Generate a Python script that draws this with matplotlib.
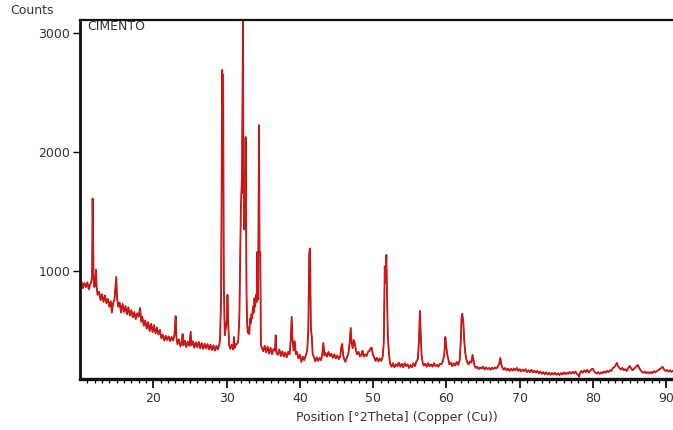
"""XRD pattern of the cement sample (CIMENTO), Cu K-alpha, 10-91 deg 2Theta.

Values read off the diffractometer printout: a low-angle region with the
falling amorphous background, the main clinker reflections (29-52 deg) and
the flat high-angle tail.
"""

import matplotlib

matplotlib.use("Agg")
import matplotlib.pyplot as plt
import numpy as np
from matplotlib.ticker import FixedLocator

# low-angle region, 10-29 deg
theta_low = [
    10.0, 10.2, 10.4, 10.6, 10.8, 11.0, 11.2, 11.4, 11.55, 11.65,
    11.72, 11.78, 11.85, 11.95, 12.05, 12.18, 12.28, 12.4, 12.6, 12.8,
    13.0, 13.2, 13.4, 13.6, 13.8, 14.0, 14.2, 14.35, 14.5, 14.7,
    14.85, 14.95, 15.05, 15.2, 15.4, 15.6, 15.8, 16.0, 16.2, 16.4,
    16.6, 16.8, 17.0, 17.2, 17.4, 17.6, 17.8, 18.0, 18.2, 18.35,
    18.5, 18.7, 18.9, 19.1, 19.3, 19.5, 19.7, 19.9, 20.1, 20.3,
    20.5, 20.7, 20.9, 21.1, 21.3, 21.5, 21.7, 21.9, 22.1, 22.3,
    22.5, 22.7, 22.9, 23.05, 23.15, 23.3, 23.5, 23.7, 23.9, 24.0,
    24.1, 24.3, 24.5, 24.7, 24.9, 25.1, 25.2, 25.4, 25.6, 25.8,
    26.0, 26.2, 26.4, 26.6, 26.8, 27.0, 27.2, 27.4, 27.6, 27.8,
    28.0, 28.2, 28.4, 28.6, 28.8, 29.0,
]
counts_low = [
    880, 910, 855, 900, 865, 905, 845, 890, 910, 960,
    1610, 1300, 950, 865, 885, 1010, 855, 800, 825, 755,
    805, 740, 795, 730, 765, 700, 745, 650, 725, 760,
    870, 950, 780, 700, 735, 650, 725, 655, 705, 635,
    695, 625, 670, 610, 655, 595, 645, 615, 690, 575,
    615, 540, 585, 515, 570, 495, 555, 485, 545, 475,
    525, 465, 505, 435, 465, 415, 455, 420, 450, 410,
    445, 415, 470, 620, 450, 385, 425, 365, 405, 470,
    375, 415, 360, 405, 370, 490, 375, 410, 355, 400,
    360, 405, 350, 395, 345, 390, 350, 385, 340, 380,
    335, 375, 330, 370, 340, 380,
]

# main reflections, 29-52 deg
theta_main = [
    29.1, 29.25, 29.4, 29.47, 29.53, 29.62, 29.75, 29.9, 30.05, 30.12,
    30.22, 30.35, 30.5, 30.7, 30.9, 31.0, 31.1, 31.3, 31.5, 31.6,
    31.75, 31.95, 32.1, 32.24, 32.3, 32.36, 32.42, 32.48, 32.52, 32.6,
    32.66, 32.72, 32.8, 32.9, 33.0, 33.1, 33.2, 33.3, 33.4, 33.5,
    33.6, 33.7, 33.8, 33.9, 34.0, 34.1, 34.2, 34.3, 34.42, 34.5,
    34.6, 34.68, 34.8, 35.0, 35.2, 35.4, 35.6, 35.8, 36.0, 36.2,
    36.4, 36.6, 36.7, 36.8, 37.0, 37.2, 37.4, 37.6, 37.8, 38.0,
    38.2, 38.4, 38.6, 38.75, 38.88, 39.0, 39.15, 39.3, 39.45, 39.6,
    39.8, 40.0, 40.2, 40.4, 40.6, 40.8, 41.0, 41.15, 41.27, 41.38,
    41.5, 41.62, 41.75, 41.9, 42.1, 42.3, 42.5, 42.7, 42.9, 43.05,
    43.2, 43.35, 43.5, 43.7, 43.9, 44.1, 44.3, 44.5, 44.7, 44.9,
    45.1, 45.3, 45.5, 45.65, 45.78, 45.9, 46.05, 46.2, 46.4, 46.6,
    46.8, 46.93, 47.05, 47.2, 47.35, 47.5, 47.65, 47.8, 48.0, 48.2,
    48.4, 48.55, 48.7, 48.9, 49.1, 49.3, 49.5, 49.65, 49.8, 49.95,
    50.1, 50.3, 50.5, 50.7, 50.9, 51.1, 51.3, 51.45, 51.58, 51.68,
    51.8, 51.9, 52.0, 52.15,
]
counts_main = [
    420, 760, 2690, 2400, 2650, 900, 460, 520, 600, 800,
    560, 380, 345, 380, 340, 445, 355, 385, 390, 420,
    630, 1530, 1800, 3110, 1650, 1830, 1350, 1800, 1400, 2125,
    1500, 815, 560, 480, 520, 470, 600, 560, 640, 600,
    700, 650, 770, 700, 800, 740, 1160, 760, 2226, 1160,
    1160, 380, 360, 325, 370, 315, 365, 305, 355, 300,
    345, 330, 460, 315, 295, 340, 285, 325, 280, 315,
    275, 320, 300, 420, 614, 420, 330, 410, 300, 320,
    265, 295, 236, 280, 250, 290, 330, 500, 1150, 1190,
    520, 450, 300, 280, 240, 275, 245, 270, 250, 300,
    395, 290, 310, 280, 320, 285, 305, 270, 300, 265,
    290, 260, 280, 360, 387, 290, 260, 236, 270, 300,
    400, 521, 400, 350, 420, 390, 330, 300, 320, 280,
    300, 330, 280, 300, 285, 320, 330, 350, 355, 300,
    280, 245, 270, 240, 265, 245, 280, 400, 1040, 900,
    1135, 760, 450, 311,
]

# high-angle tail, 52-92 deg
theta_high = [
    52.3, 52.5, 52.7, 52.9, 53.1, 53.3, 53.5, 53.7, 53.9, 54.1,
    54.3, 54.5, 54.7, 54.9, 55.1, 55.3, 55.5, 55.7, 55.9, 56.1,
    56.25, 56.38, 56.48, 56.6, 56.75, 56.9, 57.1, 57.3, 57.5, 57.7,
    57.9, 58.1, 58.3, 58.5, 58.7, 58.9, 59.1, 59.3, 59.5, 59.7,
    59.85, 59.95, 60.1, 60.25, 60.4, 60.6, 60.8, 61.0, 61.2, 61.4,
    61.6, 61.8, 61.95, 62.05, 62.15, 62.3, 62.42, 62.55, 62.7, 62.85,
    63.0, 63.2, 63.4, 63.55, 63.7, 63.85, 64.0, 64.2, 64.4, 64.6,
    64.8, 65.0, 65.2, 65.4, 65.6, 65.8, 66.0, 66.2, 66.4, 66.6,
    66.8, 67.0, 67.2, 67.35, 67.5, 67.65, 67.8, 68.0, 68.2, 68.4,
    68.6, 68.8, 69.0, 69.2, 69.4, 69.6, 69.8, 70.0, 70.2, 70.4,
    70.6, 70.8, 71.0, 71.2, 71.4, 71.6, 71.8, 72.0, 72.2, 72.4,
    72.6, 72.8, 73.0, 73.2, 73.4, 73.6, 73.8, 74.0, 74.2, 74.4,
    74.6, 74.8, 75.0, 75.2, 75.4, 75.6, 75.8, 76.0, 76.2, 76.4,
    76.6, 76.8, 77.0, 77.2, 77.4, 77.6, 77.8, 78.0, 78.1, 78.2,
    78.4, 78.6, 78.8, 79.0, 79.2, 79.4, 79.6, 79.8, 80.0, 80.1,
    80.3, 80.5, 80.7, 80.9, 81.1, 81.3, 81.5, 81.7, 81.9, 82.1,
    82.3, 82.5, 82.7, 82.9, 83.1, 83.26, 83.4, 83.6, 83.8, 84.0,
    84.2, 84.4, 84.6, 84.8, 85.0, 85.2, 85.4, 85.6, 85.8, 86.0,
    86.1, 86.3, 86.5, 86.7, 86.9, 87.1, 87.3, 87.5, 87.7, 87.9,
    88.1, 88.3, 88.5, 88.7, 88.9, 89.1, 89.3, 89.5, 89.7, 89.9,
    90.1, 90.3, 90.5, 90.7, 90.9, 91.1, 91.5, 92.0,
]
counts_high = [
    220, 195, 225, 190, 215, 200, 230, 195, 220, 190,
    225, 200, 215, 185, 210, 190, 225, 200, 240, 260,
    420, 664, 480, 300, 230, 205, 220, 195, 225, 200,
    215, 195, 225, 200, 210, 195, 220, 215, 240, 300,
    445, 380, 300, 260, 215, 230, 200, 225, 205, 235,
    210, 250, 400, 600, 640, 572, 420, 320, 260, 230,
    215, 240, 230, 295, 250, 200, 185, 195, 175, 190,
    180, 195, 172, 190, 175, 185, 170, 188, 175, 190,
    180, 195, 220, 269, 210, 185, 170, 185, 165, 180,
    160, 178, 162, 180, 165, 185, 160, 175, 155, 172,
    158, 175, 150, 165, 150, 170, 148, 162, 145, 160,
    140, 155, 135, 150, 132, 148, 130, 145, 128, 142,
    130, 145, 128, 140, 126, 142, 130, 148, 132, 145,
    135, 150, 138, 152, 140, 155, 135, 125, 110, 140,
    160, 145, 165, 150, 170, 145, 160, 175, 177, 160,
    145, 138, 150, 135, 148, 140, 155, 145, 160, 150,
    165, 160, 185, 190, 210, 227, 200, 185, 170, 185,
    165, 175, 160, 185, 202, 180, 165, 180, 190, 205,
    210, 185, 165, 150, 145, 155, 140, 150, 138, 152,
    140, 158, 148, 160, 165, 175, 185, 194, 170, 160,
    168, 155, 165, 152, 162, 150, 158, 150,
]

X_MAJOR = [20, 30, 40, 50, 60, 70, 80, 90]
Y_MAJOR = [1000, 2000, 3000]

TEXT_COLOR = "#333333"
LINE_COLOR = "#e01414"
EDGE_COLOR = "#a01c1c"


def main() -> None:
    theta = np.concatenate([theta_low, theta_main, theta_high])
    counts = np.concatenate([counts_low, counts_main, counts_high])

    plt.rcParams["font.family"] = "DejaVu Sans"
    fig = plt.figure(figsize=(6.73, 4.30), dpi=100)
    # axes run past the right edge of the printout, as in the scan
    ax = fig.add_axes([80 / 673, 51 / 430, 601 / 673, 359 / 430])

    # thin dark stroke under a brighter red one gives the printout's look
    ax.plot(theta, counts, color=EDGE_COLOR, linewidth=1.3)
    ax.plot(theta, counts, color=LINE_COLOR, linewidth=0.7)

    ax.set_xlim(10, 92)
    ax.set_ylim(92, 3110)

    ax.xaxis.set_major_locator(FixedLocator(X_MAJOR))
    ax.xaxis.set_minor_locator(FixedLocator([t for t in range(11, 92) if t % 10]))
    ax.yaxis.set_major_locator(FixedLocator(Y_MAJOR))
    ax.tick_params(axis="x", which="major", length=6.5, width=1.2, pad=3,
                   labelsize=9, labelcolor=TEXT_COLOR)
    ax.tick_params(axis="x", which="minor", length=3.2, width=0.9)
    ax.tick_params(axis="y", which="major", length=5, width=1.0, pad=2,
                   labelsize=9, labelcolor=TEXT_COLOR)

    for side, lw in [("left", 2.0), ("bottom", 2.4), ("top", 1.6)]:
        ax.spines[side].set_linewidth(lw)
        ax.spines[side].set_color("#111111")
    ax.spines["right"].set_visible(False)

    fig.text(10 / 673, 1 - 11 / 430, "Counts", fontsize=9, color=TEXT_COLOR,
             va="center", ha="left")
    fig.text(87 / 673, 1 - 27 / 430, "CIMENTO", fontsize=9, color=TEXT_COLOR,
             va="center", ha="left")
    fig.text(397 / 673, 1 - 417 / 430, "Position [°2Theta] (Copper (Cu))",
             fontsize=9, color=TEXT_COLOR, va="center", ha="center")

    fig.savefig("out.png", dpi=100)
    plt.close(fig)


if __name__ == "__main__":
    main()
